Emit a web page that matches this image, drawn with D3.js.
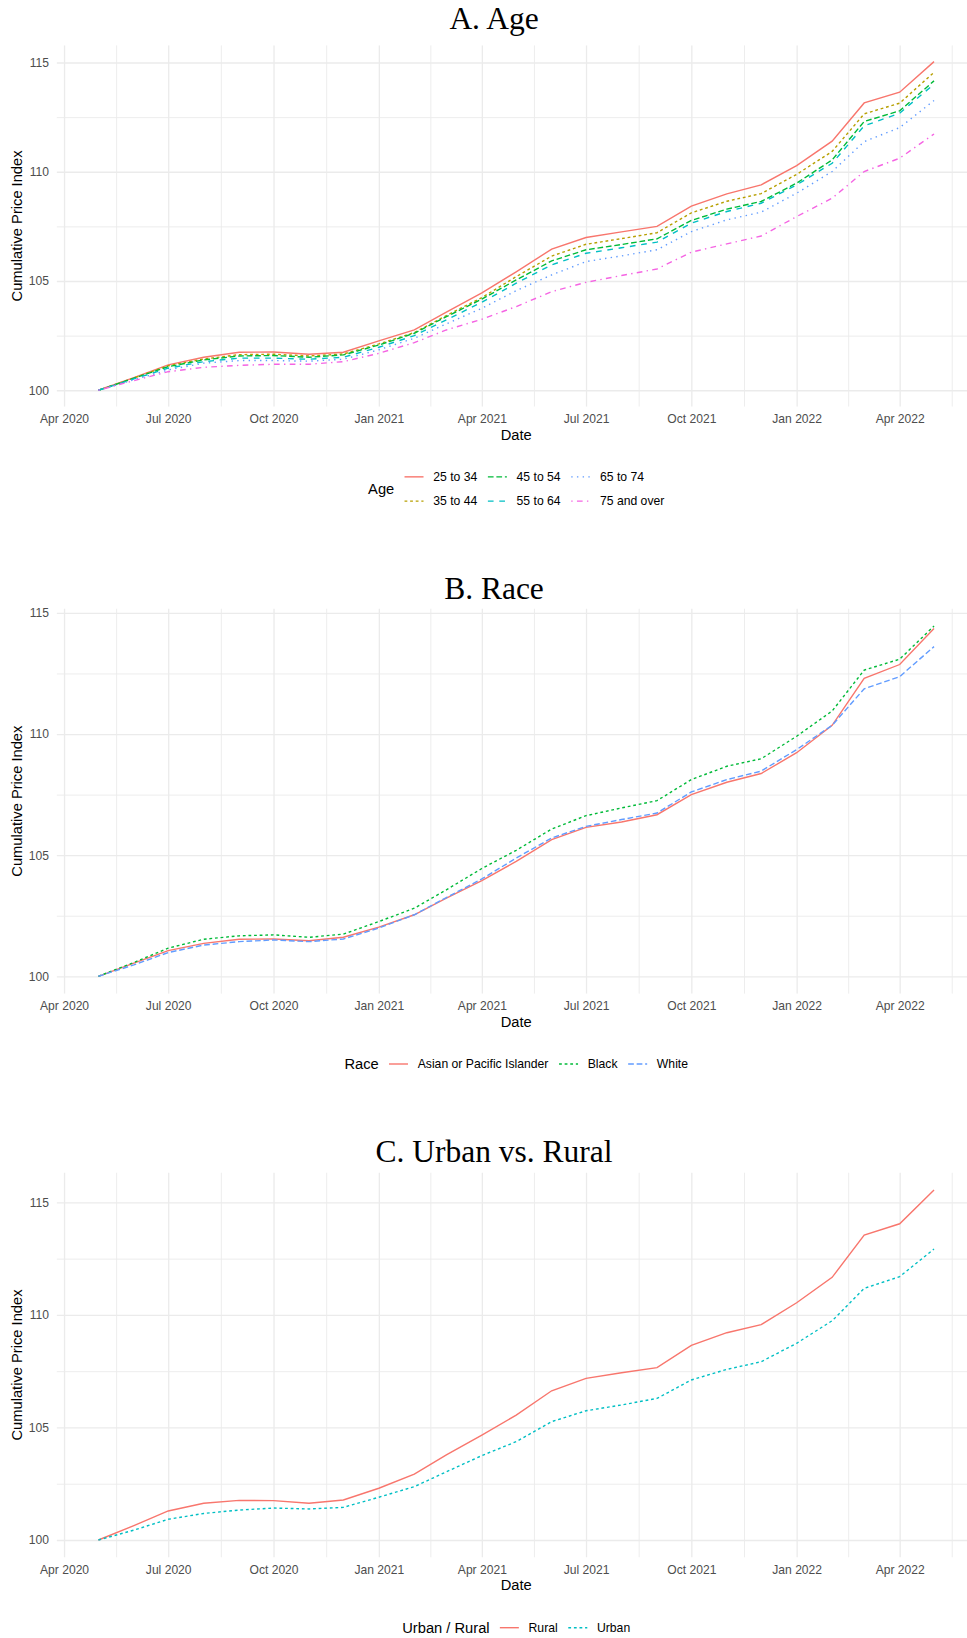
<!DOCTYPE html>
<html>
<head>
<meta charset="utf-8">
<script src="https://cdn.jsdelivr.net/npm/d3@7"></script>
<style>
  body { margin: 0; background: #fff; }
  svg { display: block; }
</style>
</head>
<body>
<div id="chart"></div>
<script>
// ---- data (monthly index, May 2020 = 100) ----
const months = [
  "2020-05", "2020-06", "2020-07", "2020-08", "2020-09", "2020-10", "2020-11", "2020-12",
  "2021-01", "2021-02", "2021-03", "2021-04", "2021-05", "2021-06", "2021-07", "2021-08",
  "2021-09", "2021-10", "2021-11", "2021-12", "2022-01", "2022-02", "2022-03", "2022-04", "2022-05"
];
const tickMonths = ["2020-04", "2020-07", "2020-10", "2021-01", "2021-04", "2021-07", "2021-10", "2022-01", "2022-04"];
const yTicks = [100, 105, 110, 115];
const yMinorTicks = [102.5, 107.5, 112.5];

const ageGroups = ["25 to 34", "35 to 44", "45 to 54", "55 to 64", "65 to 74", "75 and over"];
const age25to34 = [100, 100.58, 101.16, 101.51, 101.74, 101.75, 101.65, 101.74, 102.26, 102.76, 103.58, 104.46, 105.42, 106.46, 106.99, 107.25, 107.50, 108.43, 108.99, 109.40, 110.28, 111.40, 113.15, 113.64, 115.04];
const age35to44 = [100, 100.56, 101.12, 101.43, 101.63, 101.65, 101.57, 101.66, 102.12, 102.64, 103.42, 104.24, 105.20, 106.14, 106.68, 106.94, 107.21, 108.12, 108.65, 109.00, 109.88, 110.93, 112.65, 113.14, 114.55];
const age45to54 = [100, 100.55, 101.08, 101.39, 101.57, 101.59, 101.51, 101.62, 102.07, 102.61, 103.37, 104.17, 105.05, 105.92, 106.43, 106.67, 106.93, 107.77, 108.29, 108.64, 109.48, 110.54, 112.30, 112.79, 114.16];
const age55to64 = [100, 100.52, 101.01, 101.31, 101.47, 101.47, 101.42, 101.51, 101.97, 102.50, 103.22, 104.03, 104.90, 105.74, 106.27, 106.52, 106.78, 107.65, 108.18, 108.56, 109.40, 110.39, 112.10, 112.68, 114.01];
const age65to74 = [100, 100.48, 100.93, 101.24, 101.36, 101.36, 101.33, 101.42, 101.85, 102.38, 103.04, 103.75, 104.56, 105.28, 105.89, 106.15, 106.43, 107.26, 107.80, 108.15, 109.02, 110.01, 111.38, 112.02, 113.26];
const age75plus = [100, 100.44, 100.85, 101.05, 101.14, 101.19, 101.19, 101.31, 101.69, 102.18, 102.76, 103.25, 103.83, 104.51, 104.94, 105.25, 105.55, 106.32, 106.70, 107.06, 107.95, 108.79, 110.01, 110.62, 111.73];

const raceGroups = ["Asian or Pacific Islander", "Black", "White"];
const raceAsian = [100, 100.54, 101.06, 101.36, 101.53, 101.54, 101.47, 101.61, 102.03, 102.54, 103.23, 103.95, 104.74, 105.64, 106.15, 106.37, 106.67, 107.50, 108.01, 108.37, 109.23, 110.36, 112.30, 112.87, 114.36];
const raceBlack = [100, 100.57, 101.16, 101.53, 101.67, 101.71, 101.61, 101.74, 102.26, 102.81, 103.57, 104.45, 105.20, 106.08, 106.63, 106.95, 107.25, 108.12, 108.67, 108.98, 109.91, 110.95, 112.64, 113.09, 114.46];
const raceWhite = [100, 100.47, 100.98, 101.29, 101.43, 101.50, 101.43, 101.54, 101.99, 102.54, 103.25, 104.02, 104.88, 105.71, 106.19, 106.47, 106.74, 107.61, 108.12, 108.47, 109.36, 110.36, 111.87, 112.37, 113.61];

const areaGroups = ["Rural", "Urban"];
const areaRural = [100, 100.64, 101.29, 101.63, 101.76, 101.75, 101.63, 101.78, 102.30, 102.93, 103.78, 104.66, 105.55, 106.63, 107.18, 107.43, 107.66, 108.65, 109.21, 109.57, 110.54, 111.67, 113.55, 114.05, 115.55];
const areaUrban = [100, 100.44, 100.92, 101.18, 101.33, 101.42, 101.38, 101.45, 101.90, 102.37, 103.03, 103.75, 104.37, 105.26, 105.74, 106.00, 106.29, 107.11, 107.58, 107.92, 108.74, 109.74, 111.18, 111.70, 112.93];

// ggplot default hue palettes and linetypes
const hue6 = ["#F8766D", "#B79F00", "#00BA38", "#00BFC4", "#619CFF", "#F564E3"];
const hue3 = ["#F8766D", "#00BA38", "#619CFF"];
const hue2 = ["#F8766D", "#00BFC4"];
const lty = [null, "2.8,2.8", "5.7,2.8", "5.7,5.7", "1.4,4.3", "1.4,4.3,5.7,4.3"];

const width = 967;
const height = 1638;
const xLeft = 56.6;
const xRight = 975.8;
const sans = "'Liberation Sans', Arial, Helvetica, sans-serif";
const serif = "'Liberation Serif', 'Times New Roman', serif";

const parseMonth = d3.utcParse("%Y-%m");
const dates = months.map(parseMonth);
const tickDates = tickMonths.map(parseMonth);
// minor breaks sit halfway between the major ones
const minorDates = d3.pairs(tickDates.concat([d3.utcMonth.offset(tickDates[tickDates.length - 1], 3)]))
    .map(([a, b]) => new Date((+a + +b) / 2));

// ggplot's default 5% expansion
const expand = ([a, b], f = 0.05) => [+a - (+b - +a) * f, +b + (+b - +a) * f];

const x = d3.scaleUtc()
    .domain(expand(d3.extent(dates)).map(d => new Date(d)))
    .range([xLeft, xRight]);

const svg = d3.select("#chart")
    .append("svg")
    .attr("width", width)
    .attr("height", height)
    .attr("viewBox", [0, 0, width, height])
    .style("background", "#fff");

const panels = [
    {
        title: "A. Age", titleY: 29, top: 45.2, bottom: 406.7,
        legendTitle: "Age", legendY: 489, legendRows: 2,
        groups: ageGroups, values: [age25to34, age35to44, age45to54, age55to64, age65to74, age75plus],
        colors: hue6, dashes: lty
    },
    {
        title: "B. Race", titleY: 599, top: 608.5, bottom: 993.8,
        legendTitle: "Race", legendY: 1064, legendRows: 1,
        groups: raceGroups, values: [raceAsian, raceBlack, raceWhite],
        colors: hue3, dashes: lty
    },
    {
        title: "C. Urban vs. Rural", titleY: 1162, top: 1172.5, bottom: 1557.5,
        legendTitle: "Urban / Rural", legendY: 1627.7, legendRows: 1,
        groups: areaGroups, values: [areaRural, areaUrban],
        colors: hue2, dashes: lty
    }
];

const drawPanel = (p) => {
    const series = p.groups.map((name, i) => ({
        name,
        color: p.colors[i],
        dash: p.dashes[i],
        points: dates.map((d, j) => ({ date: d, value: p.values[i][j] }))
    }));

    const y = d3.scaleLinear()
        .domain(expand(d3.extent(p.values.flat())))
        .range([p.bottom, p.top]);

    // clip to panel
    const clipId = "clip-" + p.legendTitle.replace(/\W/g, "");
    svg.append("clipPath").attr("id", clipId)
        .append("rect")
        .attr("x", xLeft).attr("y", p.top)
        .attr("width", xRight - xLeft).attr("height", p.bottom - p.top);

    // grid: minor first, then major
    const grid = svg.append("g").attr("clip-path", `url(#${clipId})`);
    grid.append("g")
        .attr("transform", `translate(0,${p.bottom})`)
        .call(d3.axisBottom(x).tickValues(minorDates).tickSize(-(p.bottom - p.top)).tickFormat(""))
        .call(g => g.select(".domain").remove())
        .call(g => g.selectAll("line").attr("stroke", "#EBEBEB").attr("stroke-width", 0.9));
    grid.append("g")
        .attr("transform", `translate(${xLeft},0)`)
        .call(d3.axisLeft(y).tickValues(yMinorTicks).tickSize(-(xRight - xLeft)).tickFormat(""))
        .call(g => g.select(".domain").remove())
        .call(g => g.selectAll("line").attr("stroke", "#EBEBEB").attr("stroke-width", 0.9));
    grid.append("g")
        .attr("transform", `translate(0,${p.bottom})`)
        .call(d3.axisBottom(x).tickValues(tickDates).tickSize(-(p.bottom - p.top)).tickFormat(""))
        .call(g => g.select(".domain").remove())
        .call(g => g.selectAll("line").attr("stroke", "#EBEBEB").attr("stroke-width", 1.3));
    grid.append("g")
        .attr("transform", `translate(${xLeft},0)`)
        .call(d3.axisLeft(y).tickValues(yTicks).tickSize(-(xRight - xLeft)).tickFormat(""))
        .call(g => g.select(".domain").remove())
        .call(g => g.selectAll("line").attr("stroke", "#EBEBEB").attr("stroke-width", 1.3));

    // axis labels
    svg.append("g")
        .attr("transform", `translate(0,${p.bottom})`)
        .call(d3.axisBottom(x).tickValues(tickDates).tickFormat(d3.utcFormat("%b %Y")).tickSize(0).tickPadding(8))
        .call(g => g.select(".domain").remove())
        .call(g => g.selectAll("text")
            .attr("fill", "#4D4D4D")
            .attr("font-family", sans)
            .attr("font-size", 12.1));
    svg.append("g")
        .attr("transform", `translate(${xLeft},0)`)
        .call(d3.axisLeft(y).tickValues(yTicks).tickSize(0).tickPadding(7.6))
        .call(g => g.select(".domain").remove())
        .call(g => g.selectAll("text")
            .attr("fill", "#4D4D4D")
            .attr("font-family", sans)
            .attr("font-size", 12.1));

    svg.append("text")
        .attr("x", (xLeft + xRight) / 2)
        .attr("y", p.bottom + 27.7)
        .attr("dy", "0.35em")
        .attr("text-anchor", "middle")
        .attr("font-family", sans)
        .attr("font-size", 14.7)
        .attr("fill", "#000")
        .text("Date");

    svg.append("text")
        .attr("transform", `translate(17,${(p.top + p.bottom) / 2}) rotate(-90)`)
        .attr("dy", "0.35em")
        .attr("text-anchor", "middle")
        .attr("font-family", sans)
        .attr("font-size", 14.7)
        .attr("fill", "#000")
        .text("Cumulative Price Index");

    // title
    svg.append("text")
        .attr("x", 494)
        .attr("y", p.titleY)
        .attr("text-anchor", "middle")
        .attr("font-family", serif)
        .attr("font-size", 31.5)
        .attr("fill", "#000")
        .text(p.title);

    // lines
    const line = d3.line()
        .x(d => x(d.date))
        .y(d => y(d.value));

    svg.append("g")
        .attr("clip-path", `url(#${clipId})`)
        .attr("fill", "none")
        .attr("stroke-width", 1.4)
        .selectAll("path")
        .data(series)
        .join("path")
        .attr("d", d => line(d.points))
        .attr("stroke", d => d.color)
        .attr("stroke-dasharray", d => d.dash);

    // legend, centred under the panel, filled column by column
    const lg = svg.append("g");
    lg.append("text")
        .attr("x", 0)
        .attr("y", 0)
        .attr("dy", "0.35em")
        .attr("font-family", sans)
        .attr("font-size", 14.7)
        .attr("fill", "#000")
        .text(p.legendTitle);
    const titleW = lg.select("text").node().getComputedTextLength();
    const rows = p.legendRows;
    const rowGap = 24.3;
    const cols = d3.range(Math.ceil(series.length / rows)).map(c => series.slice(c * rows, c * rows + rows));
    let cx = titleW + 10.3;
    cols.forEach(col => {
        let maxW = 0;
        col.forEach((s, r) => {
            const yy = r * rowGap - (rows - 1) * rowGap / 2;
            lg.append("line")
                .attr("x1", cx).attr("x2", cx + 19)
                .attr("y1", yy).attr("y2", yy)
                .attr("stroke", s.color)
                .attr("stroke-width", 1.4)
                .attr("stroke-dasharray", s.dash);
            const t = lg.append("text")
                .attr("x", cx + 19 + 9.7)
                .attr("y", yy)
                .attr("dy", "0.35em")
                .attr("font-family", sans)
                .attr("font-size", 12.2)
                .attr("fill", "#000")
                .text(s.name);
            maxW = Math.max(maxW, t.node().getComputedTextLength());
        });
        cx += 19 + 9.7 + maxW + 10.6;
    });
    const total = cx - 10.6;
    lg.attr("transform", `translate(${(xLeft + xRight) / 2 - total / 2},${p.legendY})`);
};

panels.forEach(drawPanel);
</script>
</body>
</html>
